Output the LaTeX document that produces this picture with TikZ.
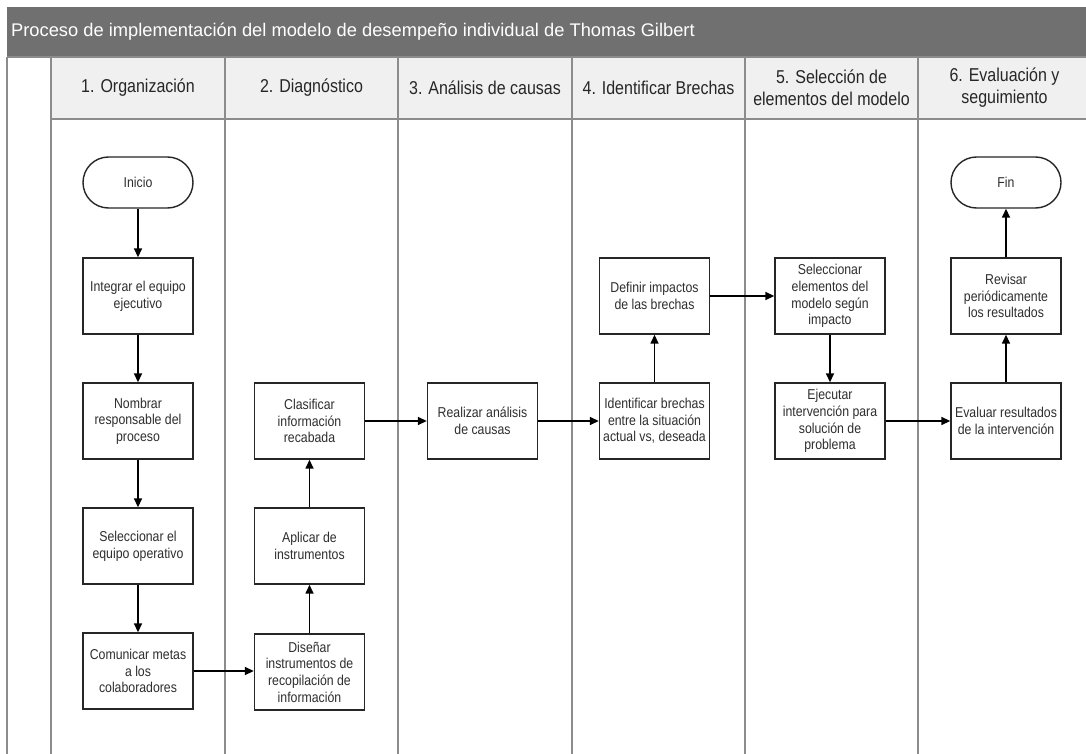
\documentclass[tikz,border=0pt]{standalone}
\usepackage{fontspec}
\setmainfont{Liberation Sans}
\newfontfamily\narrowsans[FakeStretch=0.86]{Liberation Sans}
\usetikzlibrary{arrows.meta}
\definecolor{titlegrey}{HTML}{707070}
\definecolor{headfill}{HTML}{F0F0F0}
\definecolor{laneline}{HTML}{8C8C8C}
\definecolor{inktext}{HTML}{2E2E2E}
\tikzset{
  stepbox/.style={draw=black!85, line width=1.4pt, fill=white, minimum width=110pt,
    minimum height=76pt, inner sep=1pt, align=center, text=inktext,
    font=\narrowsans\fontsize{14.3}{16.7}\selectfont},
  terminal/.style={stepbox, minimum height=51pt, rounded corners=25.5pt},
  lanehead/.style={align=center, text=black!85, font=\narrowsans\fontsize{18.6}{22}\selectfont},
  lane/.style={draw=laneline, line width=2pt},
  flow/.style={draw=black, line width=1.5pt, -{Triangle[length=9pt,width=8pt]}}
}
\begin{document}
\begin{tikzpicture}[x=1pt,y=-1pt]
  % canvas
  \fill[white] (0,0) rectangle (1086,754);
  \useasboundingbox (0,0) rectangle (1086,754);

  % title bar
  \fill[titlegrey] (7,7) rectangle (1086,57);
  \node[anchor=west, text=white, font=\fontsize{18.3}{22}\selectfont, inner sep=0pt]
    (title) at (11,32) {Proceso de implementación del modelo de desempeño individual de Thomas Gilbert};

  % header band
  \fill[headfill] (51,57) rectangle (1086,119);
  \draw[lane] (51,119) -- (1086,119);
  \draw[lane] (7,57) -- (1086,57);

  % lane separators
  \foreach \lx in {7,51,225,398,572,745,918}
    \draw[lane] (\lx,57) -- (\lx,754);

  % lane headings
  \node[lanehead] (h1) at (138,88) {1. Organización};
  \node[lanehead] (h2) at (311.5,88) {2. Diagnóstico};
  \node[lanehead] (h3) at (485,88) {3. Análisis de causas};
  \node[lanehead] (h4) at (658.5,88) {4. Identificar Brechas};
  \node[lanehead] (h5) at (831.5,88) {5. Selección de\\elementos del modelo};
  \node[lanehead] (h6) at (1004.5,88) {6. Evaluación y\\seguimiento};

  % lane 1
  \node[terminal] (inicio) at (138,182.5) {Inicio};
  \node[stepbox] (integrar) at (138,296) {Integrar el equipo\\ejecutivo};
  \node[stepbox] (nombrar) at (138,421) {Nombrar\\responsable del\\proceso};
  \node[stepbox] (selequipo) at (138,546) {Seleccionar el\\equipo operativo};
  \node[stepbox] (comunicar) at (138,671) {Comunicar metas\\a los\\colaboradores};

  % lane 2
  \node[stepbox] (disenar) at (309.5,672) {Diseñar\\instrumentos de\\recopilación de\\información};
  \node[stepbox] (aplicar) at (309.5,546) {Aplicar de\\instrumentos};
  \node[stepbox] (clasificar) at (309.5,421) {Clasificar\\información\\recabada};

  % lane 3
  \node[stepbox] (realizar) at (482.5,421) {Realizar análisis\\de causas};

  % lane 4
  \node[stepbox] (identificar) at (654.5,421) {Identificar brechas\\entre la situación\\actual vs, deseada};
  \node[stepbox] (definir) at (654.5,296) {Definir impactos\\de las brechas};

  % lane 5
  \node[stepbox] (selelem) at (830,296) {Seleccionar\\elementos del\\modelo según\\impacto};
  \node[stepbox] (ejecutar) at (830,421) {Ejecutar\\intervención para\\solución de\\problema};

  % lane 6
  \node[stepbox] (evaluar) at (1006,421) {Evaluar resultados\\de la intervención};
  \node[stepbox] (revisar) at (1006,296) {Revisar\\periódicamente\\los resultados};
  \node[terminal] (fin) at (1006,182.5) {Fin};

  % connectors
  \draw[flow] (inicio) -- (integrar);
  \draw[flow] (integrar) -- (nombrar);
  \draw[flow] (nombrar) -- (selequipo);
  \draw[flow] (selequipo) -- (comunicar);
  \draw[flow] (comunicar.east) -- (comunicar.east -| disenar.west);
  \draw[flow] (disenar) -- (aplicar);
  \draw[flow] (aplicar) -- (clasificar);
  \draw[flow] (clasificar) -- (realizar);
  \draw[flow] (realizar) -- (identificar);
  \draw[flow] (identificar) -- (definir);
  \draw[flow] (definir) -- (selelem);
  \draw[flow] (selelem) -- (ejecutar);
  \draw[flow] (ejecutar) -- (evaluar);
  \draw[flow] (evaluar) -- (revisar);
  \draw[flow] (revisar) -- (fin);
\end{tikzpicture}
\end{document}
